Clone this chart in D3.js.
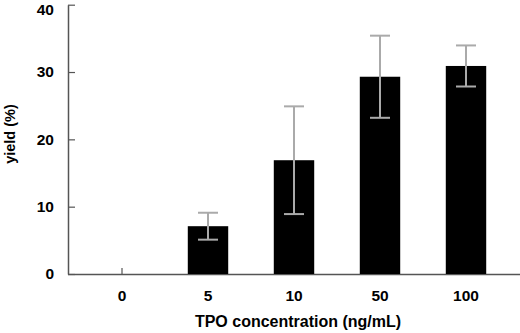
<!DOCTYPE html>
<html>
<head>
<meta charset="utf-8">
<script src="https://cdn.jsdelivr.net/npm/d3@7"></script>
<style>
  body { margin: 0; background: #fff; }
  text { font-family: "Liberation Sans", Arial, sans-serif; font-weight: bold; }
</style>
</head>
<body>
<div id="chart"></div>
<script>
// Data
const categories = ["0", "5", "10", "50", "100"];
const yieldValues = [0, 7.1, 16.9, 29.3, 30.9];
const yieldErrors = [0, 2.0, 8.0, 6.1, 3.05];
const yTicks = [0, 10, 20, 30, 40];

// Dimensions
const width = 520, height = 333;

const svg = d3.select('#chart')
    .append('svg')
    .attr('width', width)
    .attr('height', height);

// Scales
const x = d3.scaleBand()
    .domain(categories)
    .range([79, 509])
    .paddingInner(0.53)
    .paddingOuter(0.265);

const y = d3.scaleLinear()
    .domain([0, 40])
    .range([274, 4.7]);

// Axes (drawn first so the bars cover the inward x ticks)
const yAxis = svg.append('g')
    .attr('transform', 'translate(68,0)')
    .call(d3.axisLeft(y).tickValues(yTicks).tickSizeInner(-7).tickSizeOuter(0).tickPadding(14));

const xAxis = svg.append('g')
    .attr('transform', `translate(0,${y(0)})`)
    .call(d3.axisBottom(x).tickSizeInner(-6).tickSizeOuter(0).tickPadding(16));

xAxis.select('.domain').attr('d', `M68,0.5H520`);

[xAxis, yAxis].forEach((g) => {
    g.select('.domain').attr('stroke', '#555').attr('stroke-width', 1.5);
    g.selectAll('.tick line').attr('stroke', '#555').attr('stroke-width', 1.2);
    g.selectAll('.tick text')
        .attr('fill', '#000')
        .style('font-size', '15.5px')
        .style('font-weight', 'bold');
});

// top label sits against the page edge; nudge it just inside
yAxis.selectAll('.tick text').filter((d) => d === 40).attr('dy', '0.62em');

// Bars
svg.append('g')
    .selectAll('rect')
    .data(categories)
    .join('rect')
    .attr('x', (d) => x(d))
    .attr('width', x.bandwidth())
    .attr('y', (d, i) => y(yieldValues[i]))
    .attr('height', (d, i) => y(0) - y(yieldValues[i]))
    .attr('fill', '#000');

// Error bars
const cx = (d) => x(d) + x.bandwidth() / 2;
const idx = (d) => categories.indexOf(d);
const hi = (d) => y(yieldValues[idx(d)] + yieldErrors[idx(d)]);
const lo = (d) => y(yieldValues[idx(d)] - yieldErrors[idx(d)]);

const errGroup = svg.append('g')
    .attr('stroke', '#aaa')
    .attr('stroke-width', 2)
    .selectAll('g')
    .data(categories.filter((d, i) => yieldErrors[i] > 0))
    .join('g');

errGroup.append('line')
    .attr('x1', cx).attr('x2', cx)
    .attr('y1', lo)
    .attr('y2', hi);
errGroup.append('line')
    .attr('x1', (d) => cx(d) - 10).attr('x2', (d) => cx(d) + 10)
    .attr('y1', hi).attr('y2', hi);
errGroup.append('line')
    .attr('x1', (d) => cx(d) - 10).attr('x2', (d) => cx(d) + 10)
    .attr('y1', lo).attr('y2', lo);

// Axis labels
svg.append('text')
    .attr('x', 298)
    .attr('y', 327)
    .attr('text-anchor', 'middle')
    .style('font-size', '16px')
    .text('TPO concentration (ng/mL)');

svg.append('text')
    .attr('transform', 'translate(15,134) rotate(-90)')
    .attr('text-anchor', 'middle')
    .style('font-size', '14.5px')
    .text('yield (%)');
</script>
</body>
</html>
